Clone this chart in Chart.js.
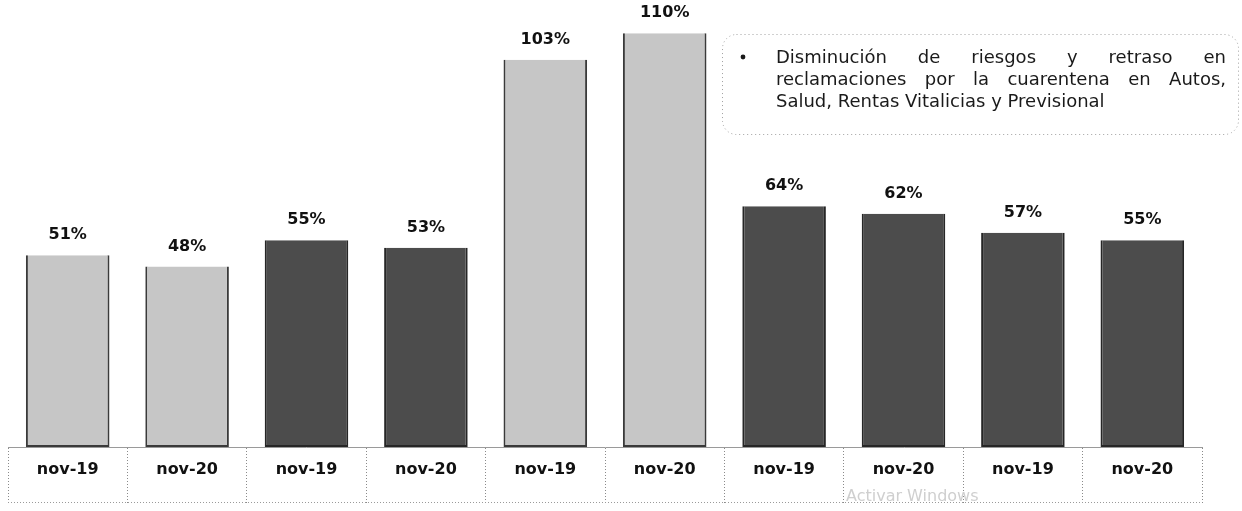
<!DOCTYPE html>
<html>
<head>
<meta charset="utf-8">
<script src="https://cdn.jsdelivr.net/npm/chart.js@4.4.0/dist/chart.umd.min.js"></script>
<style>
html, body { margin: 0; padding: 0; background: #fff; }
#wrap { width: 1242px; height: 511px; }
</style>
</head>
<body>
<div id="wrap"><canvas id="ctx_ratio" width="1242" height="511"></canvas></div>
<script>
const categories = ['nov-19', 'nov-20', 'nov-19', 'nov-20', 'nov-19', 'nov-20', 'nov-19', 'nov-20', 'nov-19', 'nov-20'];
const values = [51, 48, 55, 53, 103, 110, 64, 62, 57, 55];
const shades = ['light', 'light', 'dark', 'dark', 'light', 'light', 'dark', 'dark', 'dark', 'dark'];
const noteLines = [
    'Disminución de riesgos y retraso en',
    'reclamaciones por la cuarentena en Autos,',
    'Salud, Rentas Vitalicias y Previsional'
];
const watermark = 'Activar Windows';

const fillFor = { light: '#c6c6c6', dark: '#4c4c4c' };
const edgeFor = { light: '#3a3a3a', dark: '#262626' };

const ctx_ratio = document.getElementById('ctx_ratio');

// percentage above each bar
const valueLabels = {
    id: 'valueLabels',
    afterDatasetsDraw(chart) {
        const ctx = chart.ctx;
        const meta = chart.getDatasetMeta(0);
        ctx.save();
        ctx.font = 'bold 16px "DejaVu Sans"';
        ctx.fillStyle = '#111';
        ctx.textAlign = 'center';
        ctx.textBaseline = 'middle';
        meta.data.forEach((bar, i) => {
            ctx.fillText(values[i] + '%', bar.x, bar.y - 20);
        });
        ctx.restore();
    }
};

// dotted bottom of the label table, note box, watermark
const extras = {
    id: 'extras',
    afterDraw(chart) {
        const ctx = chart.ctx;
        const x = chart.scales.x;
        ctx.save();
        ctx.strokeStyle = '#9a9a9a';
        ctx.lineWidth = 1;
        ctx.setLineDash([1, 2]);
        ctx.beginPath();
        ctx.moveTo(x.left, x.bottom - 0.5);
        ctx.lineTo(x.right, x.bottom - 0.5);
        ctx.stroke();

        // note box
        const bx = 722, by = 34, bw = 516, bh = 100, r = 14;
        ctx.beginPath();
        ctx.roundRect(bx + 0.5, by + 0.5, bw, bh, r);
        ctx.strokeStyle = '#a0a0a0';
        ctx.setLineDash([1, 3]);
        ctx.stroke();
        ctx.setLineDash([]);

        ctx.fillStyle = '#1a1a1a';
        ctx.font = '18px "DejaVu Sans"';
        ctx.textBaseline = 'middle';
        ctx.textAlign = 'left';
        ctx.beginPath();
        ctx.arc(743, 57, 2.4, 0, Math.PI * 2);
        ctx.fill();
        const left = 776, right = 1226;
        noteLines.forEach((line, i) => {
            const y = 58 + i * 22;
            const words = line.split(' ');
            if (i < noteLines.length - 1) {
                const wsum = words.reduce((s, w) => s + ctx.measureText(w).width, 0);
                const gap = (right - left - wsum) / (words.length - 1);
                let cx = left;
                words.forEach(w => {
                    ctx.fillText(w, cx, y);
                    cx += ctx.measureText(w).width + gap;
                });
            } else {
                ctx.fillText(line, left, y);
            }
        });

        ctx.fillStyle = '#cfcfcf';
        ctx.font = '16px "DejaVu Sans"';
        ctx.fillText(watermark, 846, 497);
        ctx.restore();
    }
};

new Chart(ctx_ratio, {
    type: 'bar',
    data: {
        labels: categories,
        datasets: [{
            data: values,
            backgroundColor: shades.map(s => fillFor[s]),
            borderColor: shades.map(s => edgeFor[s]),
            borderWidth: { left: 2, right: 2, top: 0, bottom: 2 },
            borderSkipped: false,
            categoryPercentage: 1,
            barPercentage: 0.7
        }]
    },
    options: {
        responsive: false,
        animation: false,
        layout: {
            padding: { left: 8, right: 40, top: 7, bottom: 8 }
        },
        scales: {
            x: {
                grid: {
                    display: true,
                    drawOnChartArea: false,
                    drawTicks: true,
                    tickLength: 56,
                    tickColor: '#8a8a8a',
                    tickWidth: 1,
                    tickBorderDash: [1, 2]
                },
                border: {
                    display: true,
                    color: '#9a9a9a',
                    dash: [1, 2]
                },
                ticks: {
                    padding: -43,
                    color: '#111',
                    font: { family: 'DejaVu Sans', size: 16, weight: 'bold' },
                    maxRotation: 0
                },
                afterFit(scale) {
                    scale.height = 56;
                }
            },
            y: {
                display: false,
                min: 0,
                max: 117
            }
        },
        plugins: {
            legend: { display: false },
            tooltip: { enabled: false }
        }
    },
    plugins: [valueLabels, extras]
});
</script>
</body>
</html>
